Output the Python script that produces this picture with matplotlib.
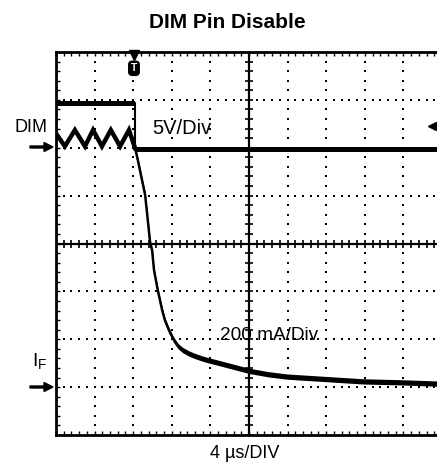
import numpy as np
import matplotlib
matplotlib.use("Agg")
import matplotlib.pyplot as plt
from matplotlib.ticker import MultipleLocator

plt.rcParams['font.family'] = ['Liberation Sans', 'DejaVu Sans']

W, H = 437, 468

# ---- data (time in divisions of 4 us, value in screen divisions) ----
dim_t = [0.0, 2.05, 2.05, 10.0]
dim_v = [6.93, 6.93, 5.97, 5.97]

ripple_t = [0.0, 0.23, 0.49, 0.75, 0.96, 1.19, 1.42, 1.66, 1.89, 2.05]
ripple_v = [6.30, 6.03, 6.37, 6.03, 6.37, 6.03, 6.37, 6.03, 6.37, 5.99]

if_t = [2.05, 2.12, 2.31, 2.44, 2.49, 2.54, 2.64, 2.75, 2.82, 2.92,
        3.01, 3.08, 3.17, 3.29, 3.45, 3.60, 3.78, 3.95, 4.15, 4.43,
        5.0, 5.49, 5.98, 6.97, 7.95, 8.94, 10.0]
if_v = [5.99, 5.74, 5.01, 4.01, 3.86, 3.44, 3.01, 2.61, 2.40, 2.20,
        2.05, 1.95, 1.85, 1.77, 1.70, 1.65, 1.60, 1.56, 1.52, 1.46,
        1.34, 1.27, 1.22, 1.17, 1.12, 1.10, 1.07]

noise_dim = 0.055
noise_if = 0.055

title = "DIM Pin Disable"
ch1_label = "DIM"
ch1_scale = "5V/Div"
ch2_label = "I$_\\mathregular{F}$"
ch2_scale = "200 mA/Div"
time_scale = "4 \u00b5s/DIV"

fig = plt.figure(figsize=(W / 100, H / 100), dpi=100)
fig.patch.set_facecolor('white')

# axes: left 56px, top 52px, bottom 435px, 10 divisions of 38.6px wide
L, T, B = 56, 52, 435
DW = 38.6
ax = fig.add_axes([L / W, (H - B) / H, 10 * DW / W, (B - T) / H])
ax.set_xlim(0, 10)
ax.set_ylim(0, 8)
ax.set_facecolor('white')
ax.spines['right'].set_visible(False)
for s in ['left', 'top', 'bottom']:
    ax.spines[s].set_linewidth(2.0)
ax.xaxis.set_major_locator(MultipleLocator(1))
ax.xaxis.set_minor_locator(MultipleLocator(0.2))
ax.yaxis.set_major_locator(MultipleLocator(1))
ax.yaxis.set_minor_locator(MultipleLocator(0.2))
ax.tick_params(which='both', direction='in', top=True, bottom=True, left=True,
               right=False, length=3.2, width=1.0, labelbottom=False, labelleft=False)

# dotted graticule
minor_x = np.arange(0, 10.01, 0.2)
minor_y = np.arange(0, 8.01, 0.2)
for gx in [1, 2, 3, 4, 6, 7, 8, 9]:
    ax.plot(np.full_like(minor_y, gx), minor_y, ls='none', marker='s',
            ms=1.5, mew=0, color='black')
for gy in [1, 2, 3, 5, 6, 7]:
    ax.plot(minor_x, np.full_like(minor_x, gy), ls='none', marker='s',
            ms=1.5, mew=0, color='black')

# centre cross with ticks
ax.axvline(5, color='black', lw=1.6)
ax.axhline(4, color='black', lw=1.6)
ax.plot(np.full_like(minor_y, 5), minor_y, ls='none', marker='_', ms=6, mew=1.2, color='black')
ax.plot(minor_x, np.full_like(minor_x, 4), ls='none', marker='|', ms=6, mew=1.2, color='black')

# traces
dt = np.array(dim_t); dv = np.array(dim_v)
rt = np.array(ripple_t); rv = np.array(ripple_v)
it = np.array(if_t); iv = np.array(if_v)
ax.plot(dt, dv, color='black', lw=1.5)
ax.fill_between(dt[:2], dv[:2] - 0.05, dv[:2] + 0.05, color='black', lw=0)
ax.fill_between(dt[2:], dv[2:] - noise_dim, dv[2:] + noise_dim, color='black', lw=0)
ax.plot(rt, rv, color='black', lw=3.2, solid_joinstyle='miter')
ax.plot(it, iv, color='black', lw=1.8, solid_joinstyle='round')
ax.fill_between(it, iv - noise_if, iv + noise_if, color='black', lw=0)

# trigger marker and right-side level marker
ax.plot([2.02], [7.93], marker='v', ms=7, color='black', clip_on=False)
ax.text(2.02, 7.66, "T", ha='center', va='center', color='white', fontsize=7.5,
        fontweight='bold',
        bbox=dict(boxstyle='round,pad=0.2,rounding_size=0.35', fc='black', ec='black'))
ax.plot([9.74], [6.45], marker='<', ms=6, color='black')


def px(x, y):
    return x / W, 1 - y / H


fig.text(*px(227, 22), title, ha='center', va='center', fontsize=15, fontweight='bold')
fig.text(*px(15, 128), ch1_label, ha='left', va='center', fontsize=13)
fig.text(*px(152, 128), ch1_scale, ha='left', va='center', fontsize=14.5)
fig.text(*px(220, 336), ch2_scale, ha='left', va='center', fontsize=13.7)
fig.text(*px(245, 454), time_scale, ha='center', va='center', fontsize=13)
fig.text(*px(32, 362), ch2_label, ha='left', va='center', fontsize=14)

for yy in [147, 387]:
    fig.add_artist(matplotlib.patches.FancyArrow(
        30 / W, 1 - yy / H, 23 / W, 0, width=2 / H, head_width=9 / H,
        head_length=9 / W, length_includes_head=True, color='black',
        transform=fig.transFigure))

fig.savefig('out.png', dpi=100, facecolor='white')
